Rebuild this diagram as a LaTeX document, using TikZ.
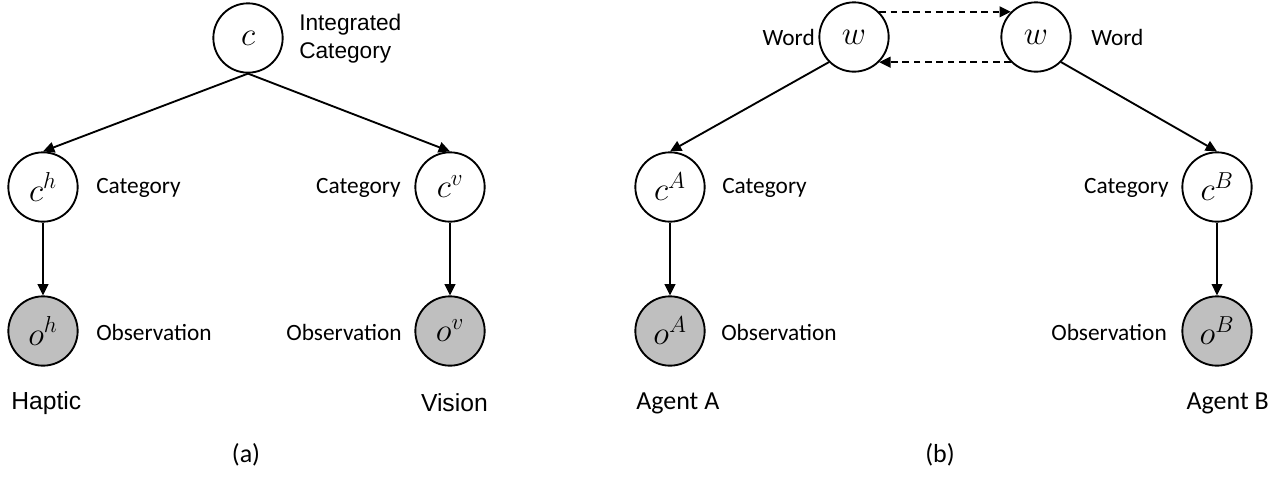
\documentclass[tikz,border=0pt]{standalone}
\usepackage{xcolor}
\definecolor{obsgray}{HTML}{BFBFBF}
\usepackage{fontspec}
\setmainfont{Carlito}
\newfontfamily\arialfont{Liberation Sans}
\usepackage{tikz}
\usetikzlibrary{arrows.meta}

\tikzset{
    var/.style = {circle, draw, line width=1.4pt, minimum size=52pt, inner sep=0pt,
                  font=\fontsize{24}{26}\selectfont},
    obs/.style = {var, fill=obsgray},
    lbl/.style = {inner sep=0pt, font=\fontsize{17.5}{20}\selectfont},
    tag/.style = {inner sep=0pt, font=\fontsize{19.5}{22}\selectfont},
    big/.style = {inner sep=0pt, font=\arialfont\fontsize{17}{21}\selectfont},
    edge/.style = {line width=1.4pt, -{Triangle[length=8.5pt, width=8pt]}}
}

\begin{document}
\begin{tikzpicture}[x=0.75pt, y=-0.75pt]
            \useasboundingbox (0, 0) rectangle (1287, 479);

            % (a)
            \node (c) at (248, 38) [var] {$c$};
            \node (ch) at (43, 187) [var] {$c^h$};
            \node (cv) at (450, 187) [var] {$c^v$};
            \node (oh) at (43, 331) [obs] {$o^h$};
            \node (ov) at (450, 331) [obs] {$o^v$};

            \node (lc) at (299, 39) [big, anchor=west, align=left] {Integrated\\Category};
            \node (lch) at (96, 188) [lbl, anchor=west] {Category};
            \node (lcv) at (401, 188) [lbl, anchor=east] {Category};
            \node (loh) at (96, 332) [lbl, anchor=west] {Observation};
            \node (lov) at (402, 332) [lbl, anchor=east] {Observation};
            \node (haptic) at (11, 403) [big, anchor=west, font=\arialfont\fontsize{18.5}{22}\selectfont] {Haptic};
            \node (vision) at (488, 403) [big, anchor=east, font=\arialfont\fontsize{18.5}{22}\selectfont] {Vision};
            \node (capa) at (246, 455) [tag] {(a)};

            \draw[edge] (c.south) to (ch.north);
            \draw[edge] (c.south) to (cv.north);
            \draw[edge] (ch) to (oh);
            \draw[edge] (cv) to (ov);

            % (b)
            \node (wa) at (854, 37) [var] {$w$};
            \node (wb) at (1036, 37) [var] {$w$};
            \node (ca) at (670, 187) [var] {$c^A$};
            \node (cb) at (1217, 187) [var] {$c^B$};
            \node (oa) at (670, 331) [obs] {$o^A$};
            \node (ob) at (1217, 331) [obs] {$o^B$};

            \node (lwa) at (815, 37) [lbl, anchor=east] {Word};
            \node (lwb) at (1091, 37) [lbl, anchor=west] {Word};
            \node (lca) at (722, 188) [lbl, anchor=west] {Category};
            \node (lcb) at (1169, 188) [lbl, anchor=east] {Category};
            \node (loa) at (721, 332) [lbl, anchor=west] {Observation};
            \node (lob) at (1167, 332) [lbl, anchor=east] {Observation};
            \node (agenta) at (636, 403) [tag, anchor=west] {Agent A};
            \node (agentb) at (1269, 403) [tag, anchor=east] {Agent B};
            \node (capb) at (940, 455) [tag] {(b)};

            \draw[edge] (wa.south west) to (ca.north);
            \draw[edge] (wb.south east) to (cb.north);
            \draw[edge] (ca) to (oa);
            \draw[edge] (cb) to (ob);

            \draw[edge, dash pattern=on 5pt off 3.5pt] (wa.45) to (wb.135);
            \draw[edge, dash pattern=on 5pt off 3.5pt] (wb.-135) to (wa.-45);
        \end{tikzpicture}
\end{document}
